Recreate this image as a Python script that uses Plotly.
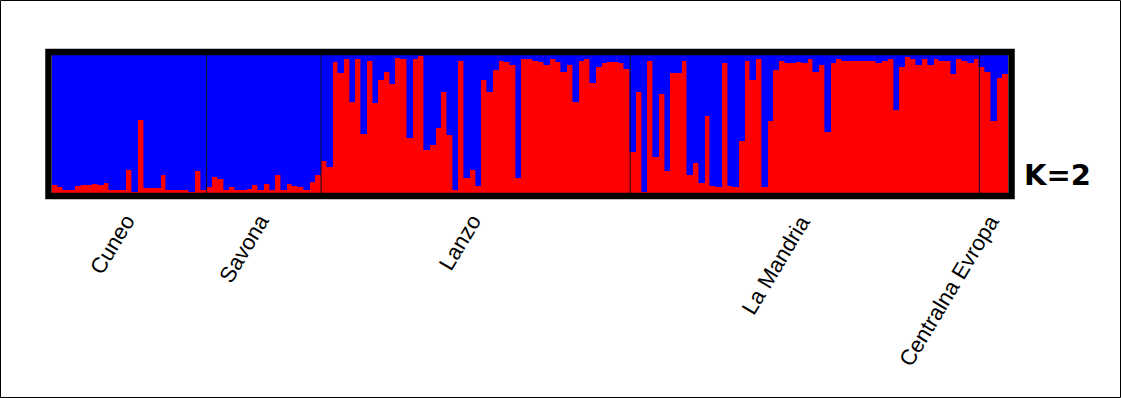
import plotly.graph_objects as go

# Membership coefficients for cluster 1 (red) per individual, K=2
cuneo = [0.06, 0.04, 0.025, 0.025, 0.05, 0.06, 0.06, 0.065, 0.055, 0.07,
         0.025, 0.025, 0.025, 0.17, 0.01, 0.53, 0.035, 0.035, 0.035, 0.13,
         0.025, 0.025, 0.025, 0.02, 0.01, 0.16, 0.025]
savona = [0.045, 0.115, 0.10, 0.025, 0.045, 0.025, 0.025, 0.03, 0.055, 0.025,
          0.065, 0.02, 0.13, 0.02, 0.065, 0.05, 0.04, 0.02, 0.08, 0.13]
lanzo = [0.23, 0.19, 0.95, 0.87, 0.97, 0.66, 0.97, 0.43, 0.96, 0.65,
         0.82, 0.88, 0.79, 0.98, 0.97, 0.40, 0.97, 0.99, 0.31, 0.35,
         0.47, 0.73, 0.42, 0.02, 0.96, 0.11, 0.17, 0.05, 0.82, 0.73,
         0.89, 0.96, 0.95, 0.93, 0.11, 0.97, 0.97, 0.96, 0.95, 0.93,
         0.97, 0.95, 0.88, 0.93, 0.66, 0.96, 0.97, 0.80, 0.91, 0.94,
         0.95, 0.95, 0.94, 0.90]
la_mandria = [0.30, 0.73, 0.01, 0.96, 0.26, 0.72, 0.16, 0.87, 0.87, 0.96,
              0.13, 0.22, 0.07, 0.56, 0.05, 0.04, 0.94, 0.05, 0.04, 0.38,
              0.96, 0.82, 0.97, 0.04, 0.52, 0.89, 0.96, 0.94, 0.94, 0.95,
              0.94, 0.97, 0.88, 0.93, 0.44, 0.94, 0.97, 0.96, 0.96, 0.96,
              0.96, 0.96, 0.96, 0.94, 0.96, 0.97, 0.60, 0.91, 0.985, 0.97,
              0.93, 0.97, 0.93, 0.97, 0.96, 0.96, 0.86, 0.97, 0.96, 0.94,
              0.97]
centralna_evropa = [0.91, 0.88, 0.52, 0.83, 0.86]

population_names = ["Cuneo", "Savona", "Lanzo", "La Mandria", "Centralna Evropa"]
populations = [cuneo, savona, lanzo, la_mandria, centralna_evropa]
k_label = "K=2"

RED = "#ff0000"
BLUE = "#0000ff"

red_q = [q for pop in populations for q in pop]
blue_q = [1 - q for q in red_q]
idx = list(range(len(red_q)))
n = len(red_q)

W, H = 1121, 398
ML, MR, MT, MB = 52, 113, 55, 205
pw, ph = W - ML - MR, H - MT - MB

fig = go.Figure()
fig.add_trace(go.Bar(x=idx, y=red_q, marker=dict(color=RED, line=dict(width=0.6, color=RED)),
                     width=1, hoverinfo="skip"))
fig.add_trace(go.Bar(x=idx, y=blue_q, marker=dict(color=BLUE, line=dict(width=0.6, color=BLUE)),
                     width=1, hoverinfo="skip"))

shapes = []
annotations = []
start = 0
for k, (name, pop) in enumerate(zip(population_names, populations)):
    end = start + len(pop)
    if k < len(populations) - 1:
        shapes.append(dict(type="line", xref="x", yref="paper",
                           x0=end - 0.5, x1=end - 0.5, y0=0, y1=1,
                           line=dict(color="#101020", width=1)))
    centre = (start + end - 1) / 2
    annotations.append(dict(text=name, x=centre + 2.3, y=-0.105, xref="x", yref="paper",
                            xanchor="right", yanchor="top", showarrow=False,
                            textangle=-59,
                            font=dict(family="Liberation Sans, Arial", size=22, color="black")))
    start = end

# thick frame around the bar panel
ox, oy = 3.5 / pw, 3.0 / ph
shapes.append(dict(type="rect", xref="paper", yref="paper",
                   x0=-ox, x1=1 + ox, y0=-oy, y1=1 + oy,
                   line=dict(color="black", width=6.5)))
# thin outline around the whole figure
shapes.append(dict(type="rect", xref="paper", yref="paper",
                   x0=(0.5 - ML) / pw, x1=(W - 0.5 - ML) / pw,
                   y0=-(MB - 0.5) / ph, y1=1 + (MT - 0.5) / ph,
                   line=dict(color="black", width=1)))

annotations.append(dict(text="<b>" + k_label + "</b>", x=(1022 - ML) / pw, y=(193 - 175) / ph,
                        xref="paper", yref="paper", xanchor="left", yanchor="middle",
                        showarrow=False,
                        font=dict(family="DejaVu Sans", size=29, color="black")))

fig.update_layout(
    width=W, height=H,
    margin=dict(l=ML, r=MR, t=MT, b=MB),
    barmode="stack", bargap=0,
    showlegend=False,
    paper_bgcolor="white", plot_bgcolor="white",
    xaxis=dict(range=[-0.5, n - 0.5], visible=False, fixedrange=True),
    yaxis=dict(range=[0, 1], visible=False, fixedrange=True),
    shapes=shapes,
    annotations=annotations,
)

fig.write_html("out.html", config={"displayModeBar": False})
